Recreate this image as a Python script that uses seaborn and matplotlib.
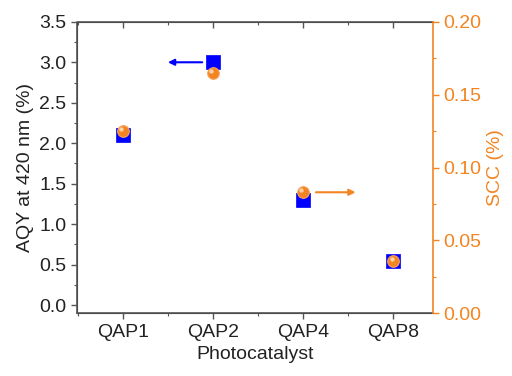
import matplotlib
matplotlib.use("Agg")
import matplotlib.pyplot as plt
import pandas as pd
import seaborn as sns
from matplotlib.ticker import MultipleLocator, FormatStrFormatter

# datos
catalysts = ["QAP1", "QAP2", "QAP4", "QAP8"]
aqy = [2.10, 3.00, 1.30, 0.54]
scc = [0.125, 0.165, 0.083, 0.036]

blue = "#0000FF"
orange = "#F28522"
gray = "#555555"

sns.set_style("ticks")
plt.rcParams['font.family'] = ['Liberation Sans', 'DejaVu Sans']

data = pd.DataFrame({"Photocatalyst": catalysts, "AQY": aqy, "SCC": scc})
data["pos"] = range(len(catalysts))

fig = plt.figure(figsize=(5.12, 3.76), dpi=100)
ax = fig.add_axes([0.150, 0.167, 0.696, 0.775])
ax2 = ax.twinx()

# AQY (eje izquierdo)
sns.scatterplot(x="pos", y="AQY", data=data, ax=ax, marker="s", s=110,
                color=blue, edgecolor=blue, linewidth=0.5, zorder=3)
# SCC (eje derecho)
sns.scatterplot(x="pos", y="SCC", data=data, ax=ax2, marker="o", s=70,
                color=orange, edgecolor="#F7A35C", linewidth=0.8, zorder=4)
ax2.scatter(data["pos"] - 0.02, data["SCC"] + 0.0015, s=10, color="#FBD2A8",
            linewidth=0, zorder=5)

ax.set_xlim(-0.51, 3.44)
ax.set_ylim(-0.1, 3.5)
ax2.set_ylim(0, 0.2)

ax.set_xticks(data["pos"])
ax.set_xticklabels(catalysts)
ax.xaxis.set_minor_locator(MultipleLocator(0.5))
ax.yaxis.set_major_locator(MultipleLocator(0.5))
ax.yaxis.set_minor_locator(MultipleLocator(0.25))
ax.yaxis.set_major_formatter(FormatStrFormatter("%.1f"))
ax2.yaxis.set_major_locator(MultipleLocator(0.05))
ax2.yaxis.set_minor_locator(MultipleLocator(0.025))
ax2.yaxis.set_major_formatter(FormatStrFormatter("%.2f"))

ax.set_xlabel("Photocatalyst", fontsize=14, color="#222222")
ax.set_ylabel("AQY at 420 nm (%)", fontsize=14, color="#222222")
ax2.set_ylabel("SCC (%)", fontsize=14, color=orange)

ax.tick_params(axis="both", which="major", labelsize=14, length=4, width=1,
               color=gray, labelcolor="#222222")
ax.tick_params(axis="both", which="minor", length=2.5, width=0.8, color=gray)
ax.tick_params(axis="x", which="both", top=True)
ax2.tick_params(axis="y", which="major", labelsize=14, length=4, width=1,
                color=orange, labelcolor=orange)
ax2.tick_params(axis="y", which="minor", length=2.5, width=0.8, color=orange)

# ticks de arriba hacia adentro
for t in ax.xaxis.get_major_ticks() + ax.xaxis.get_minor_ticks():
    t.tick2line.set_marker(matplotlib.lines.TICKDOWN)

for sp in ["left", "bottom", "top"]:
    ax2.spines[sp].set_visible(False)
ax.spines["right"].set_visible(False)
ax2.spines["right"].set_color(orange)
ax2.spines["right"].set_linewidth(1.2)

# bordes dibujados a mano en coordenadas del eje
ax.plot([0, 0, 1], [0, 1, 1], transform=ax.transAxes, color=gray, lw=1.2,
        clip_on=False, zorder=6, solid_capstyle="projecting")
ax.plot([0, 1], [0, 0], transform=ax.transAxes, color=gray, lw=1.2,
        clip_on=False, zorder=6)

# flechas
ax.annotate("", xy=(0.50, 3.0), xytext=(0.88, 3.0),
            arrowprops=dict(arrowstyle="-|>", color=blue, lw=1.5,
                            mutation_scale=9, shrinkA=0, shrinkB=0))
ax2.annotate("", xy=(2.58, 0.083), xytext=(2.14, 0.083),
             arrowprops=dict(arrowstyle="-|>", color=orange, lw=1.5,
                             mutation_scale=9, shrinkA=0, shrinkB=0))

plt.savefig("out.png", dpi=100)
